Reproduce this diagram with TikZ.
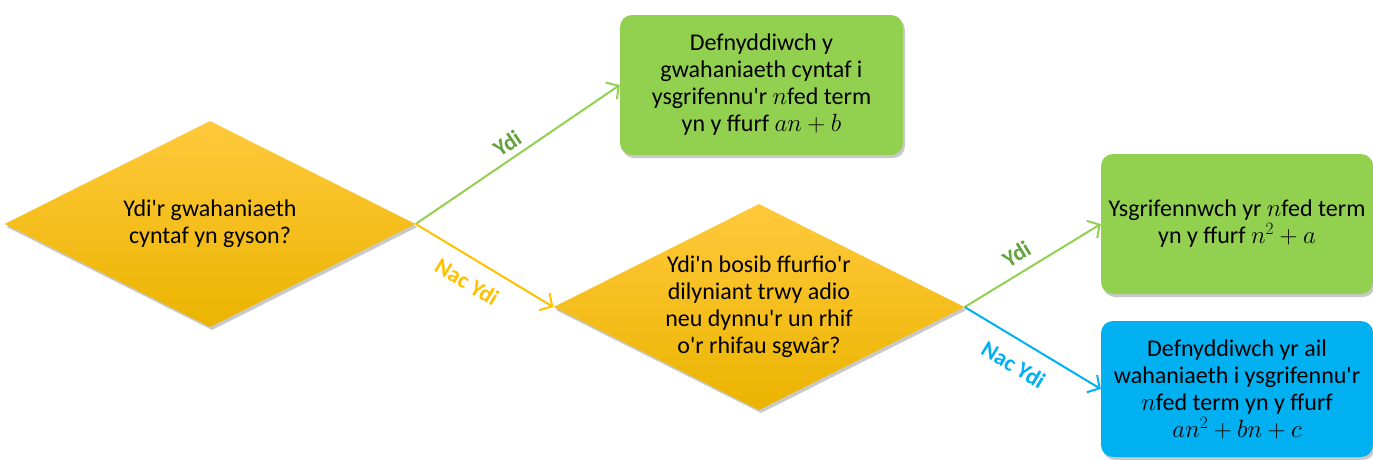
\documentclass[tikz,border=0pt]{standalone}
\usepackage{fontspec}
\setmainfont{Carlito}
\usetikzlibrary{shapes.geometric,arrows.meta,shadows}
\definecolor{boxgreen}{HTML}{92D050}
\definecolor{boxblue}{HTML}{00B0F0}
\definecolor{ortop}{HTML}{FFC93C}
\definecolor{orbot}{HTML}{EBB400}
\definecolor{orline}{HTML}{FFC000}
\definecolor{labgreen}{HTML}{63A33E}
\newcommand\ap{\textquotesingle}
\begin{document}
\begin{tikzpicture}[x=1pt,y=-1pt,
  softshadow/.style={drop shadow={shadow xshift=2pt,shadow yshift=-3pt,opacity=0.3,fill=black!70}},
  decision/.style={diamond,aspect=2,inner sep=-20pt,minimum width=411pt,minimum height=206pt,
    top color=ortop,bottom color=orbot,draw=none,softshadow,align=center,
    font=\fontsize{24}{27}\selectfont},
  outcome/.style={rectangle,rounded corners=12pt,draw=none,softshadow,align=center,
    inner sep=0pt,font=\fontsize{24}{27}\selectfont},
  conn/.style={line width=2pt,-{Straight Barb[length=9pt,width=20pt,line width=2pt]}},
  lab/.style={font=\fontsize{23}{25}\selectfont\bfseries,sloped,inner sep=0pt}]
\useasboundingbox (0,0) rectangle (1373,459);
\node[decision] (d1) at (210,224) {Ydi\ap r gwahaniaeth\\cyntaf yn gyson?};
\node[decision] (d2) at (759,307) {Ydi\ap n bosib ffurfio\ap r\\dilyniant trwy adio\\neu dynnu\ap r un rhif\\o\ap r rhifau sgwâr?};
\node[outcome,fill=boxgreen,minimum width=283pt,minimum height=140pt] (g1) at (761.5,85)
  {Defnyddiwch y\\gwahaniaeth cyntaf i\\ysgrifennu\ap r $n$fed term\\yn y ffurf $an+b$};
\node[outcome,fill=boxgreen,minimum width=272pt,minimum height=140pt] (g2) at (1237,224)
  {Ysgrifennwch yr $n$fed term\\yn y ffurf $n^2+a$};
\node[outcome,fill=boxblue,minimum width=272pt,minimum height=136pt] (b1) at (1237,389)
  {Defnyddiwch yr ail\\wahaniaeth i ysgrifennu\ap r\\$n$fed term yn y ffurf\\$an^2+bn+c$};
\draw[conn,boxgreen] (d1.east) -- node[lab,labgreen,above=6pt,pos=0.49]{Ydi} (g1.west);
\draw[conn,orline] (d1.east) -- node[lab,orline,below=14pt,pos=0.46]{Nac Ydi} (d2.west);
\draw[conn,boxgreen] (d2.east) -- node[lab,labgreen,above=9pt,pos=0.45]{Ydi} (g2.west);
\draw[conn,boxblue] (d2.east) -- node[lab,boxblue,below=15pt,pos=0.45]{Nac Ydi} (b1.west);
\end{tikzpicture}
\end{document}
